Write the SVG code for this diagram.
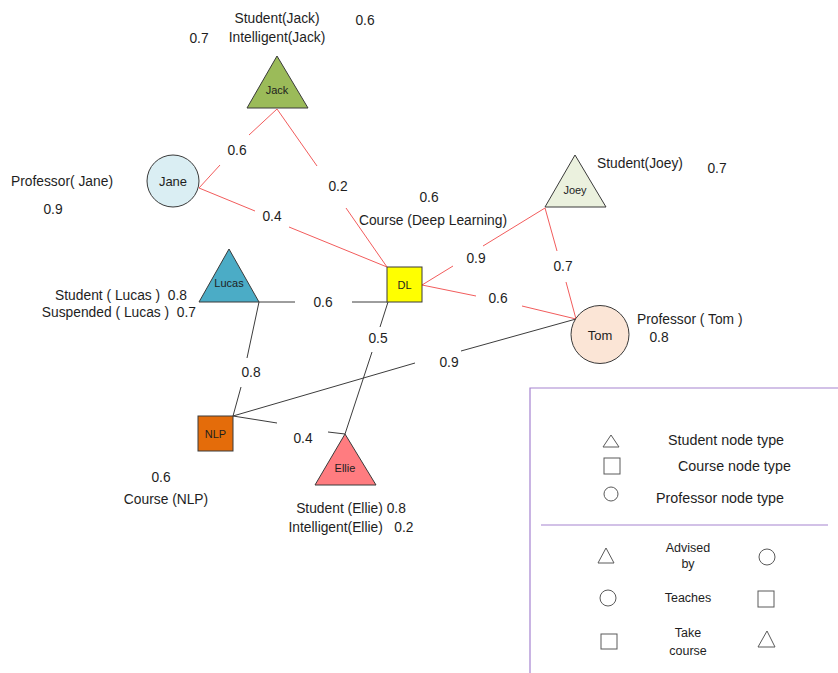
<svg xmlns="http://www.w3.org/2000/svg" width="838" height="673" viewBox="0 0 838 673">
<style>
text{font-family:"Liberation Sans",Arial,sans-serif;fill:#1e1e1e;}
.t{font-size:13.8px;}
.n{font-size:11px;text-anchor:middle;}
.nb{font-size:13px;text-anchor:middle;}
.m{text-anchor:middle;}
.r{stroke:#f25c5c;stroke-width:1;fill:none;}
.k{stroke:#3c3c3c;stroke-width:1;fill:none;}
.sh{stroke:#3a3a3a;stroke-width:1;}
.lg{stroke:#5a5a5a;stroke-width:1;fill:none;}
.lb{stroke:#a583d0;stroke-width:1.2;fill:none;}
.ls{font-size:14.3px;}
.lt{font-size:12.5px;text-anchor:middle;}
</style>
<rect width="838" height="673" fill="#fff"/>
<g id="connectors">
<path class="r" d="M277,109 L249,135 M220,165 L199,188"/>
<path class="r" d="M277,109 L317,166 M346,208 L387,267"/>
<path class="r" d="M199,188 L255,211 M289,227 L387,267"/>
<path class="r" d="M422,285 L453,266 M483,246 L545,208"/>
<path class="r" d="M545,208 L557,251 M566,282 L576,319"/>
<path class="r" d="M422,285 L476,296 M522,306 L576,319"/>
<path class="k" d="M259,302 L295,302 M352,302 L387,302"/>
<path class="k" d="M259,302 L247,358 M241,387 L233,416"/>
<path class="k" d="M388,302 L380,327 M372,352 L345,434"/>
<path class="k" d="M233,416 L277,423 M328,432 L345,434"/>
<path class="k" d="M233,416 L415,363 M461,351 L576,319"/>
</g>
<g id="node-jack">
<polygon class="sh" points="277,56 247,108 308,108" fill="#9bbb59"/>
<text class="n" x="277" y="94">Jack</text>
</g>
<g id="node-jane">
<circle class="sh" cx="173" cy="181" r="26" fill="#daeef3"/>
<text class="nb" x="173" y="186">Jane</text>
</g>
<g id="node-joey">
<polygon class="sh" points="575,155 545,207 606,207" fill="#ebf1de"/>
<text class="n" x="575" y="194">Joey</text>
</g>
<g id="node-lucas">
<polygon class="sh" points="229,249 199,302 259,302" fill="#4bacc6"/>
<text class="n" x="229" y="287">Lucas</text>
</g>
<g id="node-dl">
<rect class="sh" x="387" y="267" width="35" height="35" fill="#ffff00"/>
<text class="n" x="404.5" y="289">DL</text>
</g>
<g id="node-tom">
<circle class="sh" cx="600" cy="334.5" r="29" fill="#fbe5d6"/>
<text class="nb" x="600" y="340">Tom</text>
</g>
<g id="node-nlp">
<rect class="sh" x="198" y="416" width="35" height="35" fill="#e46c0a"/>
<text class="n" x="215.5" y="438">NLP</text>
</g>
<g id="node-ellie">
<polygon class="sh" points="345,434 315,485 376,485" fill="#ff7c80"/>
<text class="n" x="345" y="472">Ellie</text>
</g>
<g id="labels">
<text class="t m" x="277" y="23">Student(Jack)</text>
<text class="t m" x="277" y="42">Intelligent(Jack)</text>
<text class="t m" x="199" y="43">0.7</text>
<text class="t m" x="365" y="25">0.6</text>
<text class="t m" x="62" y="186">Professor( Jane)</text>
<text class="t m" x="53" y="214">0.9</text>
<text class="t m" x="237" y="155">0.6</text>
<text class="t m" x="338" y="191">0.2</text>
<text class="t m" x="272" y="221">0.4</text>
<text class="t m" x="429" y="202">0.6</text>
<text class="t m" x="433" y="225">Course (Deep Learning)</text>
<text class="t m" x="640" y="168">Student(Joey)</text>
<text class="t m" x="717" y="173">0.7</text>
<text class="t m" x="476" y="263">0.9</text>
<text class="t m" x="563" y="271">0.7</text>
<text class="t" x="187" y="300" text-anchor="end" xml:space="preserve">Student ( Lucas )  0.8</text>
<text class="t" x="196" y="317" text-anchor="end" xml:space="preserve">Suspended ( Lucas )  0.7</text>
<text class="t m" x="323" y="307">0.6</text>
<text class="t m" x="378" y="343">0.5</text>
<text class="t m" x="498" y="303">0.6</text>
<text class="t" x="637" y="324">Professor ( Tom )</text>
<text class="t m" x="659" y="342">0.8</text>
<text class="t m" x="449" y="367">0.9</text>
<text class="t m" x="251" y="377">0.8</text>
<text class="t m" x="303" y="443">0.4</text>
<text class="t m" x="161" y="482">0.6</text>
<text class="t m" x="166" y="504">Course (NLP)</text>
<text class="t m" x="351" y="513">Student (Ellie) 0.8</text>
<text class="t m" x="351" y="532" xml:space="preserve">Intelligent(Ellie)   0.2</text>
</g>
<g id="legend">
<path class="lb" d="M530,673 L530,388 L838,388"/>
<path class="lb" d="M541,525 L828,525"/>
<polygon class="lg" points="611,435 603,447 619,447"/>
<rect class="lg" x="604" y="458" width="16" height="16"/>
<circle class="lg" cx="611" cy="494" r="7"/>
<text class="ls" x="668" y="445">Student node type</text>
<text class="ls" x="678" y="471">Course node type</text>
<text class="ls" x="656" y="503">Professor node type</text>
<polygon class="lg" points="606,548 598,563 614,563"/>
<text class="lt" x="688" y="552">Advised</text>
<text class="lt" x="688" y="568">by</text>
<circle class="lg" cx="767" cy="557" r="8"/>
<circle class="lg" cx="608" cy="598" r="8"/>
<text class="lt" x="688" y="602">Teaches</text>
<rect class="lg" x="758" y="591" width="16" height="16"/>
<rect class="lg" x="601" y="634" width="16" height="15"/>
<text class="lt" x="688" y="637">Take</text>
<text class="lt" x="688" y="655">course</text>
<polygon class="lg" points="767,631 758,647 775,647"/>
</g>
</svg>
